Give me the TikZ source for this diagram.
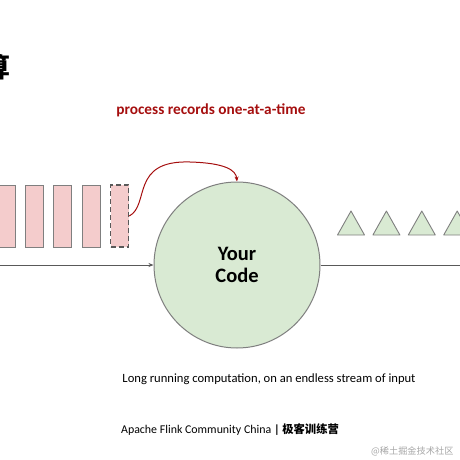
\documentclass[tikz,border=0pt]{standalone}
\usepackage{fontspec}
\setmainfont{Carlito}
\newfontfamily\cjk{Noto Sans CJK SC}
\usetikzlibrary{positioning,arrows.meta}
\definecolor{recfill}{HTML}{F4CCCC}
\definecolor{evfill}{HTML}{D9EAD3}
\definecolor{edgegray}{HTML}{7F7F7F}
\definecolor{linegray}{HTML}{595959}
\definecolor{darkred}{HTML}{A50E0E}

\begin{document}
\begin{tikzpicture}[x=1pt,y=-1pt,>={Stealth[length=5pt,width=4pt]},
  record/.style={draw=edgegray,fill=recfill,line width=1pt,minimum width=18pt,minimum height=62pt,inner sep=0pt},
  event/.style={draw=edgegray,fill=evfill,line width=0.9pt,line join=round},
  stream/.style={draw=linegray,line width=0.9pt}]
\useasboundingbox (0,0) rectangle (460,460);
\clip (0,0) rectangle (460,460);
% title (cut at the left edge)
\node[font=\cjk\bfseries\fontsize{27}{27}\selectfont,anchor=east,inner sep=0pt] (title) at (10.5,67) {算};
% records waiting in the stream
\foreach \i in {0,...,3}
  \node[record] (r\i) at (6+28.4*\i,216) {};
\node[record,dashed,dash pattern=on 5pt off 3pt,line width=1.4pt,draw=linegray] (cur) at (119.6,216) {};
% the operator
\node[circle,draw=edgegray,fill=evfill,line width=1pt,minimum size=166pt,inner sep=0pt,
  font=\bfseries\fontsize{20.5}{22}\selectfont,align=center] (code) at (237,265) {Your\\Code};
% stream line
\coordinate (in) at (0,265);
\coordinate (out) at (460,265);
\draw[stream,->] (in) -- (code.west);
\draw[stream] (code.east) -- (out);
% processed results
\foreach \i in {0,...,3}
  \draw[event] (337.5+35.4*\i,235) -- ++(13.5,-24) -- ++(13.5,24) -- cycle;
% one-at-a-time arrow
\draw[->,darkred,line width=1pt] (cur.east) .. controls (150,205) and (130,160) .. (190,162)
  .. controls (225,163) and (236,170) .. (code.north);
\node[font=\bfseries\fontsize{15.3}{18}\selectfont,text=darkred] (label) at (211,110) {process records one-at-a-time};
% caption and footer
\node[font=\fontsize{12.6}{15}\selectfont] (caption) at (269,379) {Long running computation, on an endless stream of input};
\node[font=\fontsize{11.9}{14}\selectfont] (footer) at (230,430) {Apache Flink Community China {\bfseries |} {\cjk\bfseries\fontsize{11.3}{14}\selectfont 极客训练营}};
\node[font=\cjk\fontsize{9.2}{11}\selectfont,text=black!35,anchor=east] (mark) at (457,451) {@稀土掘金技术社区};
\end{tikzpicture}
\end{document}
